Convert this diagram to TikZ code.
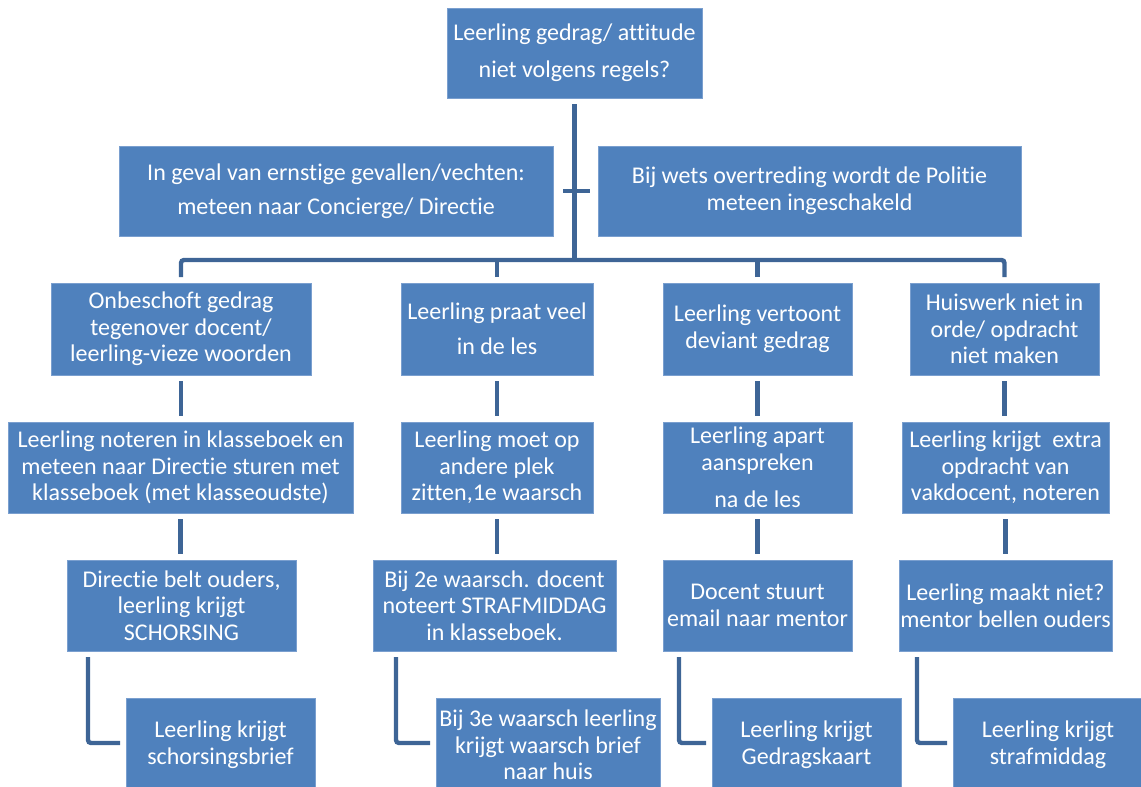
\documentclass[tikz,border=0pt]{standalone}
\usepackage{fontspec}
\setmainfont{Carlito}[Ligatures={NoCommon}]
\usetikzlibrary{calc}
\definecolor{boxfill}{HTML}{4F81BD}
\definecolor{boxedge}{HTML}{7A9FCF}
\definecolor{conncol}{HTML}{3E6596}
\newcommand\mybox[7][]{%
  \pgfmathsetmacro\mycx{(#3+#5)/2}%
  \pgfmathsetmacro\mycy{(#4+#6)/2}%
  \pgfmathsetmacro\myww{(#5-#3)*0.5}%
  \pgfmathsetmacro\myhh{(#6-#4)*0.5}%
  \node[box,minimum width=\myww pt,minimum height=\myhh pt,#1] (#2) at (\mycx,\mycy) {#7};}
\begin{document}
\begin{tikzpicture}[x=0.5pt,y=-0.5pt,
  box/.style={rectangle,fill=boxfill,draw=boxedge,line width=0.4pt,text=white,
    align=center,inner sep=0pt,outer sep=0pt,font=\fontsize{12}{13.3}\selectfont},
  conn/.style={draw=conncol,line width=2.2pt,rounded corners=1.5pt}]
\useasboundingbox (0,0) rectangle (1141,787);

% boxes
\mybox[font=\fontsize{12}{18.5}\selectfont]{top}{447}{8}{702}{98}{Leerling gedrag/ attitude\\niet volgens regels?}
\mybox[font=\fontsize{12}{17}\selectfont]{L}{119}{146}{553}{236}{In geval van ernstige gevallen/vechten:\\meteen naar Concierge/ Directie}
\mybox{R}{598}{146}{1021}{236}{Bij wets overtreding wordt de Politie\\meteen ingeschakeld}

\mybox{r2A}{51}{283}{311}{375}{Onbeschoft gedrag\\tegenover docent/\\leerling-vieze woorden}
\mybox[font=\fontsize{12}{17.5}\selectfont]{r2B}{401}{283}{593}{375}{Leerling praat veel\\in de les}
\mybox{r2C}{663}{283}{852}{375}{Leerling vertoont\\deviant gedrag}
\mybox{r2D}{910}{283}{1099}{375}{Huiswerk niet in\\orde/ opdracht\\niet maken}

\mybox{r3A}{8}{422}{353}{513}{Leerling noteren in klasseboek en\\meteen naar Directie sturen met\\klasseboek (met klasseoudste)}
\mybox{r3B}{401}{422}{593}{513}{Leerling moet op\\andere plek\\zitten,1e waarsch}
\mybox{r3C}{663}{422}{852}{513}{Leerling apart\\aanspreken\\[5.5pt]na de les}
\mybox{r3D}{902}{422}{1109}{513}{Leerling krijgt~ extra\\opdracht van\\vakdocent, noteren}

\mybox{r4A}{67}{560}{296}{651}{Directie belt ouders,\\leerling krijgt\\SCHORSING}
\mybox{r4B}{373}{560}{616}{651}{Bij 2e waarsch. docent\\noteert STRAFMIDDAG\\in klasseboek.}
\mybox{r4C}{663}{560}{852}{651}{Docent stuurt\\email naar mentor}
\mybox{r4D}{899}{560}{1112}{651}{Leerling maakt niet?\\mentor bellen ouders}

\mybox{r5A}{126}{698}{315}{792}{Leerling krijgt\\schorsingsbrief}
\mybox{r5B}{436}{698}{660}{792}{Bij 3e waarsch leerling\\krijgt waarsch brief\\naar huis}
\mybox{r5C}{712}{698}{901}{792}{Leerling krijgt\\Gedragskaart}
\mybox{r5D}{953}{698}{1143}{792}{Leerling krijgt\\strafmiddag}

% trunk and bar
\draw[conn] ($(top.south)+(0,6)$) -- ($(top.south |- r2A.north)+(0,-23)$);
\draw[conn] ($(L.east)+(10,0)$) -- ($(R.west)+(-8,0)$);
\draw[conn] ($(r2A.north)+(0,-6)$) |- ($(r2D.north)+(0,-23)$) -- ($(r2D.north)+(0,-6)$);
\draw[conn] ($(r2B.north)+(0,-6)$) -- ($(r2B.north)+(0,-23)$);
\draw[conn] ($(r2C.north)+(0,-6)$) -- ($(r2C.north)+(0,-23)$);

% row 2 -> row 3 -> row 4
\foreach \c in {A,B,C,D}{
  \draw[conn] ($(r2\c.south)+(0,6)$) -- ($(r2\c.south |- r3\c.north)+(0,-6)$);
  \draw[conn] ($(r3\c.south)+(0,6)$) -- ($(r3\c.south |- r4\c.north)+(0,-6)$);
}

% row 4 -> row 5 elbows
\draw[conn] ($(r4A.south west)+(21,6)$) |- ($(r5A.north west)+(-6,45)$);
\draw[conn] ($(r4B.south west)+(23,6)$) |- ($(r5B.north west)+(-6,45)$);
\draw[conn] ($(r4C.south west)+(16,6)$) |- ($(r5C.north west)+(-6,45)$);
\draw[conn] ($(r4D.south west)+(18,6)$) |- ($(r5D.north west)+(-6,45)$);
\end{tikzpicture}
\end{document}
